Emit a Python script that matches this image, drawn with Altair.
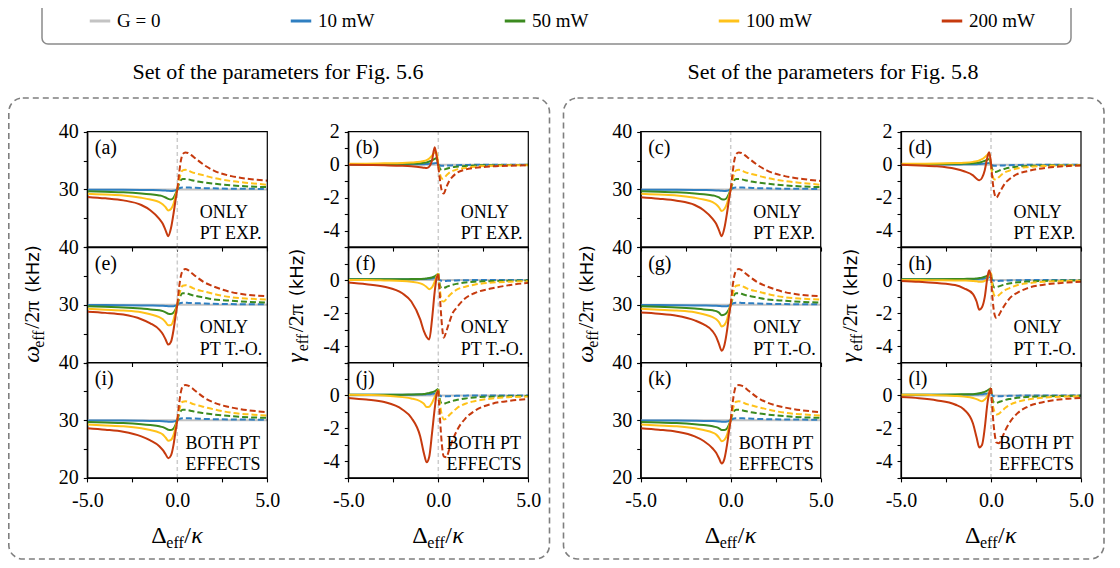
import altair as alt
import pandas as pd

FONT = "Liberation Serif"
SANS = "DejaVu Sans"
SERIES = ["G = 0", "10 mW", "50 mW", "100 mW", "200 mW"]
COLORS = ["#c3c3c3", "#2f7fc1", "#3b8a1f", "#ffc21a", "#c63a0e"]

# x grids (Delta_eff / kappa) for the solid (left) and dashed (right) halves
XL = [-5, -4, -3, -2, -1.5, -1, -0.8, -0.65, -0.5, -0.35, -0.2, -0.1, 0]
XR = [0, 0.1, 0.2, 0.3, 0.45, 0.6, 0.8, 1, 1.5, 2, 3, 4, 5]
X_EDGE = [-5, 5]
OMEGA_BASE = [30, 30]
GAMMA_BASE = [0, 0]

X_TICKS = [-5, -2.5, 0, 2.5, 5]
W_TICKS = [20, 25, 30, 35, 40]
G_TICKS = [-5, -4, -3, -2, -1, 0, 1, 2]

# ---------------- omega_eff / 2pi (kHz) ----------------
A_BLUE_L = [29.95, 29.95, 29.93, 29.9, 29.88, 29.85, 29.82, 29.79, 29.75, 29.73, 29.76, 29.86, 30.0]
A_BLUE_R = [30.0, 30.2, 30.3, 30.35, 30.35, 30.33, 30.3, 30.28, 30.22, 30.18, 30.12, 30.1, 30.08]
A_GREEN_L = [29.7, 29.6, 29.5, 29.3, 29.15, 28.95, 28.8, 28.6, 28.35, 28.25, 28.6, 29.2, 30.0]
A_GREEN_R = [30.0, 31.0, 31.6, 31.8, 31.8, 31.75, 31.6, 31.45, 31.2, 31.0, 30.7, 30.5, 30.4]
A_YELLOW_L = [29.25, 29.1, 28.95, 28.55, 28.25, 27.8, 27.4, 26.9, 26.35, 26.6, 27.6, 28.8, 30.0]
A_YELLOW_R = [30.0, 31.6, 32.8, 33.3, 33.4, 33.3, 33.0, 32.8, 32.4, 32.0, 31.45, 31.1, 30.8]
A_RED_L = [28.7, 28.45, 28.1, 27.3, 26.4, 24.9, 24.0, 22.9, 21.9, 23.3, 26.0, 28.1, 30.0]
A_RED_R = [30.0, 32.7, 35.0, 36.1, 36.4, 36.3, 35.9, 35.4, 34.2, 33.3, 32.3, 31.8, 31.5]

E_BLUE_L = [29.95, 29.95, 29.93, 29.9, 29.88, 29.85, 29.82, 29.79, 29.75, 29.73, 29.76, 29.86, 30.0]
E_BLUE_R = [30.0, 30.2, 30.3, 30.35, 30.35, 30.33, 30.3, 30.28, 30.22, 30.18, 30.12, 30.1, 30.08]
E_GREEN_L = [29.75, 29.65, 29.55, 29.35, 29.2, 29.05, 28.9, 28.7, 28.45, 28.4, 28.7, 29.2, 30.0]
E_GREEN_R = [30.0, 31.0, 31.7, 32.0, 32.0, 31.9, 31.7, 31.55, 31.25, 30.95, 30.7, 30.5, 30.4]
E_YELLOW_L = [29.3, 29.15, 29.0, 28.7, 28.35, 27.85, 27.5, 27.0, 26.45, 26.5, 27.5, 28.8, 30.0]
E_YELLOW_R = [30.0, 31.6, 32.8, 33.3, 33.4, 33.3, 33.0, 32.7, 32.3, 31.9, 31.3, 31.05, 30.9]
E_RED_L = [28.8, 28.6, 28.3, 27.5, 26.8, 25.7, 24.9, 24.0, 23.1, 23.6, 25.8, 28.0, 30.0]
E_RED_R = [30.0, 33.0, 35.0, 35.9, 36.2, 36.0, 35.5, 35.0, 33.9, 33.2, 32.2, 31.7, 31.5]

I_BLUE_L = [29.95, 29.95, 29.93, 29.9, 29.88, 29.85, 29.82, 29.79, 29.75, 29.73, 29.76, 29.86, 30.0]
I_BLUE_R = [30.0, 30.2, 30.3, 30.35, 30.35, 30.33, 30.3, 30.28, 30.22, 30.18, 30.12, 30.1, 30.08]
I_GREEN_L = [29.7, 29.6, 29.5, 29.3, 29.15, 28.95, 28.8, 28.6, 28.35, 28.3, 28.6, 29.2, 30.0]
I_GREEN_R = [30.0, 31.0, 31.6, 31.8, 31.8, 31.75, 31.6, 31.45, 31.2, 31.0, 30.7, 30.5, 30.4]
I_YELLOW_L = [29.25, 29.1, 28.95, 28.6, 28.3, 27.85, 27.5, 27.0, 26.45, 26.6, 27.5, 28.8, 30.0]
I_YELLOW_R = [30.0, 31.6, 32.8, 33.2, 33.3, 33.2, 32.9, 32.7, 32.3, 31.9, 31.3, 31.0, 30.8]
I_RED_L = [28.6, 28.35, 28.0, 27.2, 26.5, 25.5, 24.8, 24.1, 23.4, 23.9, 25.9, 28.0, 30.0]
I_RED_R = [30.0, 32.8, 34.9, 35.9, 36.1, 36.0, 35.6, 35.1, 33.9, 33.1, 32.2, 31.7, 31.4]

C_BLUE_L = [29.95, 29.95, 29.93, 29.9, 29.88, 29.85, 29.82, 29.79, 29.75, 29.73, 29.76, 29.86, 30.0]
C_BLUE_R = [30.0, 30.2, 30.3, 30.35, 30.35, 30.33, 30.3, 30.28, 30.22, 30.18, 30.12, 30.1, 30.08]
C_GREEN_L = [29.7, 29.6, 29.5, 29.3, 29.15, 28.95, 28.8, 28.6, 28.3, 28.25, 28.6, 29.2, 30.0]
C_GREEN_R = [30.0, 31.0, 31.6, 31.8, 31.8, 31.75, 31.6, 31.45, 31.2, 31.0, 30.7, 30.5, 30.4]
C_YELLOW_L = [29.25, 29.1, 28.95, 28.55, 28.25, 27.8, 27.4, 26.9, 26.25, 26.6, 27.6, 28.8, 30.0]
C_YELLOW_R = [30.0, 31.6, 32.8, 33.3, 33.4, 33.3, 33.0, 32.8, 32.4, 32.0, 31.45, 31.1, 30.8]
C_RED_L = [28.65, 28.4, 28.05, 27.3, 26.4, 24.9, 24.0, 22.9, 21.9, 23.3, 26.0, 28.1, 30.0]
C_RED_R = [30.0, 32.7, 35.0, 36.1, 36.4, 36.3, 35.9, 35.4, 34.2, 33.3, 32.3, 31.8, 31.45]

G_BLUE_L = [29.95, 29.95, 29.93, 29.9, 29.88, 29.85, 29.82, 29.79, 29.75, 29.73, 29.76, 29.86, 30.0]
G_BLUE_R = [30.0, 30.2, 30.3, 30.35, 30.35, 30.33, 30.3, 30.28, 30.22, 30.18, 30.12, 30.1, 30.08]
G_GREEN_L = [29.75, 29.65, 29.55, 29.35, 29.2, 29.05, 28.9, 28.65, 28.2, 28.3, 28.7, 29.2, 30.0]
G_GREEN_R = [30.0, 31.0, 31.7, 32.0, 32.0, 31.9, 31.7, 31.55, 31.25, 30.95, 30.7, 30.5, 30.4]
G_YELLOW_L = [29.3, 29.15, 29.0, 28.7, 28.35, 27.85, 27.5, 27.0, 26.25, 26.5, 27.5, 28.8, 30.0]
G_YELLOW_R = [30.0, 31.6, 32.8, 33.3, 33.4, 33.3, 33.0, 32.7, 32.3, 31.9, 31.3, 31.05, 30.9]
G_RED_L = [28.65, 28.45, 28.1, 27.3, 26.6, 25.4, 24.4, 23.2, 22.05, 23.0, 25.6, 28.0, 30.0]
G_RED_R = [30.0, 33.0, 35.0, 35.9, 36.2, 36.0, 35.5, 35.0, 33.9, 33.2, 32.2, 31.7, 31.5]

K_BLUE_L = [29.95, 29.95, 29.93, 29.9, 29.88, 29.85, 29.82, 29.79, 29.75, 29.73, 29.76, 29.86, 30.0]
K_BLUE_R = [30.0, 30.2, 30.3, 30.35, 30.35, 30.33, 30.3, 30.28, 30.22, 30.18, 30.12, 30.1, 30.08]
K_GREEN_L = [29.7, 29.6, 29.5, 29.3, 29.15, 28.95, 28.8, 28.6, 28.3, 28.3, 28.6, 29.2, 30.0]
K_GREEN_R = [30.0, 31.0, 31.6, 31.8, 31.8, 31.75, 31.6, 31.45, 31.2, 31.0, 30.7, 30.5, 30.4]
K_YELLOW_L = [29.25, 29.1, 28.95, 28.6, 28.3, 27.85, 27.5, 27.0, 26.35, 26.6, 27.5, 28.8, 30.0]
K_YELLOW_R = [30.0, 31.6, 32.8, 33.2, 33.3, 33.2, 32.9, 32.7, 32.3, 31.9, 31.3, 31.0, 30.8]
K_RED_L = [28.6, 28.35, 28.0, 27.2, 26.4, 25.1, 24.3, 23.4, 22.5, 23.3, 25.8, 28.0, 30.0]
K_RED_R = [30.0, 32.8, 34.9, 35.9, 36.1, 36.0, 35.6, 35.1, 33.9, 33.1, 32.2, 31.7, 31.4]

# ---------------- gamma_eff / 2pi (kHz) ----------------
B_BLUE_L = [0.01, 0.01, 0.01, 0.01, 0.02, 0.02, 0.03, 0.04, 0.05, 0.07, 0.09, 0.1, 0.0]
B_BLUE_R = [0.0, -0.05, -0.07, -0.07, -0.06, -0.05, -0.04, -0.03, -0.02, -0.01, -0.01, 0.0, 0.0]
B_GREEN_L = [0.03, 0.03, 0.04, 0.05, 0.07, 0.09, 0.11, 0.14, 0.19, 0.26, 0.35, 0.4, 0.0]
B_GREEN_R = [0.0, -0.25, -0.32, -0.3, -0.25, -0.2, -0.15, -0.12, -0.08, -0.05, -0.03, -0.02, -0.01]
B_YELLOW_L = [0.05, 0.06, 0.08, 0.1, 0.13, 0.18, 0.22, 0.28, 0.38, 0.55, 0.75, 0.78, -0.05]
B_YELLOW_R = [-0.05, -0.6, -0.85, -0.82, -0.65, -0.5, -0.38, -0.3, -0.2, -0.12, -0.07, -0.04, -0.03]
B_RED_L = [0.0, -0.02, -0.04, -0.07, -0.1, -0.15, -0.18, -0.2, -0.12, 0.25, 1.05, 0.55, -0.1]
B_RED_R = [-0.1, -1.0, -1.6, -1.75, -1.35, -1.0, -0.72, -0.52, -0.3, -0.2, -0.1, -0.06, -0.04]

F_BLUE_L = [0.05, 0.05, 0.05, 0.05, 0.05, 0.06, 0.06, 0.07, 0.08, 0.1, 0.12, 0.16, 0.2]
F_BLUE_R = [0.2, -0.02, -0.05, -0.06, -0.05, -0.04, -0.03, -0.02, -0.01, 0.0, 0.0, 0.0, 0.0]
F_GREEN_L = [0.05, 0.05, 0.05, 0.05, 0.06, 0.07, 0.08, 0.1, 0.12, 0.16, 0.22, 0.3, 0.4]
F_GREEN_R = [0.4, -0.35, -0.5, -0.48, -0.42, -0.35, -0.28, -0.23, -0.15, -0.1, -0.06, -0.04, -0.03]
F_YELLOW_L = [0.0, 0.0, -0.02, -0.05, -0.1, -0.2, -0.3, -0.42, -0.55, -0.45, -0.1, 0.2, 0.4]
F_YELLOW_R = [0.4, -0.7, -1.25, -1.3, -1.15, -0.95, -0.75, -0.6, -0.4, -0.28, -0.15, -0.1, -0.07]
F_RED_L = [-0.15, -0.25, -0.4, -0.8, -1.3, -2.4, -3.1, -3.45, -3.6, -2.4, -0.7, 0.1, 0.35]
F_RED_R = [0.35, -1.2, -2.7, -3.5, -3.1, -2.6, -2.0, -1.7, -1.1, -0.8, -0.5, -0.3, -0.17]

J_BLUE_L = [0.05, 0.05, 0.05, 0.05, 0.05, 0.06, 0.06, 0.07, 0.08, 0.1, 0.12, 0.16, 0.2]
J_BLUE_R = [0.2, -0.02, -0.05, -0.06, -0.05, -0.04, -0.03, -0.02, -0.01, 0.0, 0.0, 0.0, 0.0]
J_GREEN_L = [0.05, 0.05, 0.05, 0.05, 0.06, 0.07, 0.09, 0.12, 0.15, 0.2, 0.25, 0.32, 0.4]
J_GREEN_R = [0.4, -0.3, -0.5, -0.5, -0.45, -0.4, -0.33, -0.28, -0.18, -0.12, -0.07, -0.04, -0.03]
J_YELLOW_L = [0.05, 0.03, 0.0, -0.1, -0.18, -0.35, -0.5, -0.7, -0.68, -0.45, -0.1, 0.15, 0.35]
J_YELLOW_R = [0.35, -0.6, -1.2, -1.45, -1.4, -1.2, -1.0, -0.8, -0.5, -0.35, -0.18, -0.1, -0.07]
J_RED_L = [-0.15, -0.25, -0.4, -0.85, -1.35, -2.5, -3.5, -4.05, -3.7, -2.3, -0.8, 0.05, 0.3]
J_RED_R = [0.3, -1.5, -3.0, -3.7, -3.75, -3.3, -2.7, -2.2, -1.4, -0.95, -0.5, -0.32, -0.22]

D_BLUE_L = [0.01, 0.01, 0.01, 0.01, 0.02, 0.02, 0.03, 0.04, 0.05, 0.07, 0.09, 0.1, 0.0]
D_BLUE_R = [0.0, -0.05, -0.07, -0.07, -0.06, -0.05, -0.04, -0.03, -0.02, -0.01, -0.01, 0.0, 0.0]
D_GREEN_L = [0.03, 0.03, 0.04, 0.05, 0.07, 0.09, 0.11, 0.13, 0.17, 0.23, 0.3, 0.35, 0.0]
D_GREEN_R = [0.0, -0.35, -0.45, -0.43, -0.36, -0.3, -0.24, -0.19, -0.12, -0.08, -0.05, -0.03, -0.02]
D_YELLOW_L = [0.05, 0.06, 0.07, 0.1, 0.12, 0.17, 0.21, 0.26, 0.33, 0.45, 0.6, 0.72, -0.1]
D_YELLOW_R = [-0.1, -0.7, -0.9, -0.88, -0.75, -0.6, -0.45, -0.37, -0.22, -0.15, -0.08, -0.05, -0.03]
D_RED_L = [0.0, -0.05, -0.1, -0.25, -0.4, -0.65, -0.85, -0.95, -0.8, -0.35, 0.45, 0.75, 0.1]
D_RED_R = [0.1, -1.1, -1.8, -2.0, -1.75, -1.45, -1.1, -0.9, -0.55, -0.4, -0.2, -0.1, -0.05]

H_BLUE_L = [0.05, 0.05, 0.05, 0.05, 0.05, 0.06, 0.06, 0.07, 0.08, 0.1, 0.12, 0.16, 0.2]
H_BLUE_R = [0.2, -0.02, -0.05, -0.06, -0.05, -0.04, -0.03, -0.02, -0.01, 0.0, 0.0, 0.0, 0.0]
H_GREEN_L = [0.05, 0.05, 0.05, 0.06, 0.07, 0.08, 0.1, 0.12, 0.15, 0.2, 0.27, 0.35, 0.4]
H_GREEN_R = [0.4, -0.3, -0.45, -0.43, -0.38, -0.32, -0.26, -0.21, -0.13, -0.09, -0.05, -0.03, -0.02]
H_YELLOW_L = [0.0, 0.0, -0.01, -0.02, -0.03, -0.05, -0.07, -0.1, -0.1, -0.05, 0.1, 0.4, 0.45]
H_YELLOW_R = [0.45, -0.6, -0.95, -1.0, -0.9, -0.75, -0.6, -0.5, -0.3, -0.2, -0.1, -0.06, -0.04]
H_RED_L = [-0.05, -0.1, -0.18, -0.3, -0.5, -0.85, -1.3, -1.8, -1.65, -1.05, 0.15, 0.6, 0.2]
H_RED_R = [0.2, -1.3, -2.1, -2.3, -2.1, -1.8, -1.45, -1.15, -0.75, -0.5, -0.27, -0.17, -0.1]

L_BLUE_L = [0.05, 0.05, 0.05, 0.05, 0.05, 0.06, 0.06, 0.07, 0.08, 0.1, 0.12, 0.16, 0.2]
L_BLUE_R = [0.2, -0.02, -0.05, -0.06, -0.05, -0.04, -0.03, -0.02, -0.01, 0.0, 0.0, 0.0, 0.0]
L_GREEN_L = [0.05, 0.05, 0.05, 0.06, 0.07, 0.08, 0.1, 0.13, 0.17, 0.22, 0.3, 0.38, 0.45]
L_GREEN_R = [0.45, -0.3, -0.45, -0.45, -0.4, -0.34, -0.27, -0.22, -0.14, -0.09, -0.05, -0.03, -0.02]
L_YELLOW_L = [0.05, 0.04, 0.02, -0.03, -0.07, -0.15, -0.22, -0.3, -0.35, -0.25, -0.05, 0.2, 0.45]
L_YELLOW_R = [0.45, -0.6, -1.0, -1.15, -1.1, -0.95, -0.75, -0.6, -0.38, -0.25, -0.12, -0.07, -0.05]
L_RED_L = [-0.1, -0.17, -0.3, -0.55, -0.85, -1.7, -2.55, -3.15, -3.0, -2.0, -0.5, 0.15, 0.45]
L_RED_R = [0.45, -1.2, -2.3, -2.85, -2.9, -2.6, -2.1, -1.7, -1.05, -0.7, -0.38, -0.22, -0.15]

# ---------------- texts ----------------
PANEL_LETTERS = [["a", "b", "c", "d"], ["e", "f", "g", "h"], ["i", "j", "k", "l"]]
NOTE_TOP = ["ONLY", "ONLY", "BOTH PT"]
NOTE_BOTTOM = ["PT EXP.", "PT T.-O.", "EFFECTS"]
NOTE_X = [1.25, 1.25, 0.45]
GROUP_TITLES = ["Set of the parameters for Fig. 5.6", "Set of the parameters for Fig. 5.8"]

# ---------------- table of curves built from the arrays ----------------
ARR = globals()
CURVES = {}
for row in PANEL_LETTERS:
    for p in row:
        P = p.upper()
        CURVES[p] = {
            "10 mW": (ARR[P + "_BLUE_L"], ARR[P + "_BLUE_R"]),
            "50 mW": (ARR[P + "_GREEN_L"], ARR[P + "_GREEN_R"]),
            "100 mW": (ARR[P + "_YELLOW_L"], ARR[P + "_YELLOW_R"]),
            "200 mW": (ARR[P + "_RED_L"], ARR[P + "_RED_R"]),
        }

# ---------------- layout (pixels of the svg) ----------------
CW, CH = 1104, 552
COL_LEFT = [79.3, 340.3, 632.7, 893.0]
PW = 180
ROW_TOP = [123.7, 239.1, 354.5]
PH = 115.4
LW = 2.0

color_enc = alt.Color(
    "s:N",
    scale=alt.Scale(domain=SERIES, range=COLORS),
    legend=alt.Legend(
        title=None, orient="none", legendX=80, legendY=1, direction="horizontal",
        columns=5, columnPadding=123, symbolType="stroke", symbolStrokeWidth=3,
        symbolSize=420, labelFont=FONT, labelFontSize=19, labelColor="black",
        labelOffset=5, gridAlign="each",
    ),
)


def panel(r, c):
    letter = PANEL_LETTERS[r][c]
    is_w = c in (0, 2)
    L = COL_LEFT[c]
    T = ROW_TOP[r]
    B = T + PH
    ydom = [20, 40] if is_w else [-5, 2]
    xs = alt.Scale(domain=[-5, 5], range=[L, L + PW], nice=False, zero=False)
    ys = alt.Scale(domain=ydom, range=[B, T], nice=False, zero=False)
    common = dict(title=None, grid=False, labelFlush=False, labelOverlap=False,
                  tickSize=4, tickWidth=1.1, tickColor="black", domainColor="black",
                  domainWidth=1.2, labelFont=FONT, labelFontSize=20, labelColor="black")
    if r == 2:
        xax = alt.Axis(orient="bottom", offset=B - CH, values=X_TICKS, labelPadding=9,
                       labelExpr="datum.value == -5 ? '-5.0' : datum.value == 0 ? '0.0' : datum.value == 5 ? '5.0' : ''",
                       **common)
    else:
        xax = alt.Axis(orient="bottom", offset=B - CH, values=X_TICKS, labels=False, **common)
    if is_w:
        expr = "datum.value == 40 ? '40' : datum.value == 30 ? '30' : "
        expr += "datum.value == 20 ? '20' : ''" if r == 2 else "''"
        yax = alt.Axis(orient="left", offset=-L, values=W_TICKS, labelPadding=5, labelExpr=expr, **common)
    else:
        expr = "datum.value == 0 ? '0' : datum.value == -2 ? '-2' : datum.value == -4 ? '-4' : "
        expr += "datum.value == 2 ? '2' : ''" if r == 0 else "''"
        yax = alt.Axis(orient="left", offset=-L, values=G_TICKS, labelPadding=5, labelExpr=expr, **common)

    X = alt.X("x:Q", scale=xs, axis=xax)
    Y = alt.Y("y:Q", scale=ys, axis=yax)
    layers = []
    # vertical dashed line at Delta = 0
    layers.append(
        alt.Chart(pd.DataFrame({"x": [0], "y": [ydom[0]], "y2": [ydom[1]]}))
        .mark_rule(color="#cccccc", strokeDash=[4, 3], strokeWidth=1.5)
        .encode(x=X, y=Y, y2="y2:Q")
    )
    # G = 0 reference
    base = OMEGA_BASE if is_w else GAMMA_BASE
    layers.append(
        alt.Chart(pd.DataFrame({"x": X_EDGE, "y": base, "s": SERIES[0]}))
        .mark_line(strokeWidth=LW)
        .encode(x=X, y=Y, color=color_enc)
    )
    for s in SERIES[1:]:
        left, right = CURVES[letter][s]
        layers.append(
            alt.Chart(pd.DataFrame({"x": XL, "y": left, "s": s}))
            .mark_line(strokeWidth=LW, interpolate="monotone")
            .encode(x=X, y=Y, color=color_enc)
        )
        layers.append(
            alt.Chart(pd.DataFrame({"x": XR, "y": right, "s": s}))
            .mark_line(strokeWidth=LW, interpolate="monotone", strokeDash=[6, 3])
            .encode(x=X, y=Y, color=color_enc)
        )
    # frame
    layers.append(
        alt.Chart(pd.DataFrame({"x": [-5], "x2": [5], "y": [ydom[0]], "y2": [ydom[1]]}))
        .mark_rect(filled=False, stroke="black", strokeWidth=1.2)
        .encode(x=X, x2="x2:Q", y=Y, y2="y2:Q")
    )
    # panel letter
    layers.append(
        alt.Chart(pd.DataFrame({"x": [-5], "y": [ydom[1]], "t": ["(" + letter + ")"]}))
        .mark_text(align="left", baseline="alphabetic", dx=7.5, dy=22.5, font=FONT,
                   fontSize=20, color="black")
        .encode(x=X, y=Y, text="t:N")
    )
    # notes
    for txt, dy in ((NOTE_TOP[r], 86), (NOTE_BOTTOM[r], 107.5)):
        layers.append(
            alt.Chart(pd.DataFrame({"x": [NOTE_X[r]], "y": [ydom[1]], "t": [txt]}))
            .mark_text(align="left", baseline="alphabetic", dy=dy, font=FONT,
                       fontSize=18, color="black")
            .encode(x=X, y=Y, text="t:N")
        )
    return alt.layer(*layers)


ONE = pd.DataFrame({"k": [0]})


def deco_text(x, y, text, size, style="normal", angle=0, dx=0, dy=0, align="left", font=FONT):
    kw = dict(align=align, baseline="alphabetic", font=font, fontSize=size,
              fontStyle=style, color="black", dx=dx, dy=dy)
    if angle:
        kw["angle"] = angle
    return alt.Chart(ONE).mark_text(**kw).encode(
        x=alt.value(x), y=alt.value(y), text=alt.value(text))


def deco_box(x0, x1, y0, y1, radius, dash, color, width):
    kw = dict(filled=False, stroke=color, strokeWidth=width, cornerRadius=radius)
    if dash:
        kw["strokeDash"] = dash
    return alt.Chart(ONE).mark_rect(**kw).encode(
        x=alt.value(x0), x2=alt.value(x1), y=alt.value(y0), y2=alt.value(y1))


deco = [
    deco_box(34, 1063, -10, 36, 6, None, "#8a8a8a", 1.5),
    deco_box(0.8, 541.5, 90, 551, 14, [6, 4], "#7f7f7f", 1.6),
    deco_box(555.5, 1096, 90, 551, 14, [6, 4], "#7f7f7f", 1.6),
    deco_text(270, 71, GROUP_TITLES[0], 22, align="center"),
    deco_text(825, 71, GROUP_TITLES[1], 22, align="center"),
]

# x-axis titles:  Delta_eff / kappa
for c in range(4):
    cx = COL_LEFT[c] + PW / 2
    x0 = cx - 26
    deco += [
        deco_text(x0, 535, "Δ", 24),
        deco_text(x0, 535, "eff", 16, dx=15, dy=5),
        deco_text(x0, 535, "/", 24, dx=33),
        deco_text(x0, 535, "κ", 24, style="italic", dx=40),
    ]

# y-axis titles (rotated)
mid = ROW_TOP[1] + PH / 2
for c, bx in ((0, 31), (1, 295), (2, 585), (3, 849)):
    is_w = c in (0, 2)
    sym = "ω" if is_w else "γ"
    w_sym = 15 if is_w else 11.5
    y0 = mid + 58
    deco += [
        deco_text(bx, y0, sym, 24, style="italic", angle=270),
        deco_text(bx, y0, "eff", 16, angle=270, dx=w_sym, dy=5),
        deco_text(bx, y0, "/2π", 22, angle=270, dx=w_sym + 19),
        deco_text(bx, y0, "(kHz)", 18, angle=270, dx=w_sym + 55, font=SANS),
    ]

panels = [panel(r, c) for r in range(3) for c in range(4)]

chart = (
    alt.layer(*deco, *panels)
    .resolve_scale(x="independent", y="independent")
    .properties(width=CW, height=CH, autosize=alt.AutoSizeParams(type="none"), padding=0)
    .configure_view(stroke="transparent")
)

chart.save("out.html", embed_options={"renderer": "svg", "actions": False})
